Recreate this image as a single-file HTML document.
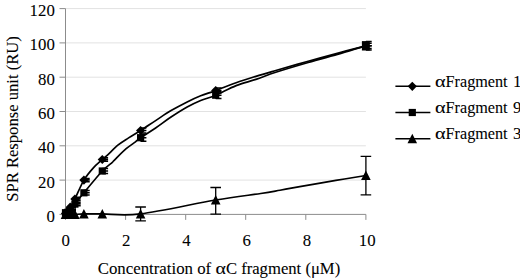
<!DOCTYPE html>
<html><head><meta charset="utf-8"><style>
html,body{margin:0;padding:0;background:#fff;}
svg{display:block}
.t{font-family:"Liberation Serif",serif;font-size:16px;fill:#000;stroke:#000;stroke-width:0.08px;}
</style></head><body>
<svg width="520" height="278" viewBox="0 0 520 278">
<rect width="520" height="278" fill="#fff"/>
<line x1="65.5" x2="365.9" y1="180.1" y2="180.1" stroke="#e2e2e2" stroke-width="1"/>
<line x1="65.5" x2="365.9" y1="145.8" y2="145.8" stroke="#e2e2e2" stroke-width="1"/>
<line x1="65.5" x2="365.9" y1="111.5" y2="111.5" stroke="#e2e2e2" stroke-width="1"/>
<line x1="65.5" x2="365.9" y1="77.2" y2="77.2" stroke="#e2e2e2" stroke-width="1"/>
<line x1="65.5" x2="365.9" y1="42.9" y2="42.9" stroke="#e2e2e2" stroke-width="1"/>
<line x1="65.5" x2="365.9" y1="8.6" y2="8.6" stroke="#e2e2e2" stroke-width="1"/>
<line x1="65.5" x2="65.5" y1="8.6" y2="214.4" stroke="#8c8c8c" stroke-width="1"/>
<line x1="65.5" x2="365.9" y1="214.4" y2="214.4" stroke="#8c8c8c" stroke-width="1"/>
<line x1="59.5" x2="65.5" y1="214.4" y2="214.4" stroke="#8c8c8c" stroke-width="1"/>
<text x="54.8" y="221.9" text-anchor="end" class="t" textLength="8.4" lengthAdjust="spacingAndGlyphs">0</text>
<line x1="59.5" x2="65.5" y1="180.1" y2="180.1" stroke="#8c8c8c" stroke-width="1"/>
<text x="54.8" y="187.6" text-anchor="end" class="t" textLength="16.8" lengthAdjust="spacingAndGlyphs">20</text>
<line x1="59.5" x2="65.5" y1="145.8" y2="145.8" stroke="#8c8c8c" stroke-width="1"/>
<text x="54.8" y="153.3" text-anchor="end" class="t" textLength="16.8" lengthAdjust="spacingAndGlyphs">40</text>
<line x1="59.5" x2="65.5" y1="111.5" y2="111.5" stroke="#8c8c8c" stroke-width="1"/>
<text x="54.8" y="119.0" text-anchor="end" class="t" textLength="16.8" lengthAdjust="spacingAndGlyphs">60</text>
<line x1="59.5" x2="65.5" y1="77.2" y2="77.2" stroke="#8c8c8c" stroke-width="1"/>
<text x="54.8" y="84.7" text-anchor="end" class="t" textLength="16.8" lengthAdjust="spacingAndGlyphs">80</text>
<line x1="59.5" x2="65.5" y1="42.9" y2="42.9" stroke="#8c8c8c" stroke-width="1"/>
<text x="54.8" y="50.4" text-anchor="end" class="t" textLength="25.2" lengthAdjust="spacingAndGlyphs">100</text>
<line x1="59.5" x2="65.5" y1="8.6" y2="8.6" stroke="#8c8c8c" stroke-width="1"/>
<text x="54.8" y="16.1" text-anchor="end" class="t" textLength="25.2" lengthAdjust="spacingAndGlyphs">120</text>
<line x1="65.5" x2="65.5" y1="214.4" y2="219.9" stroke="#8c8c8c" stroke-width="1"/>
<text x="65.8" y="246.2" text-anchor="middle" class="t" textLength="8.4" lengthAdjust="spacingAndGlyphs">0</text>
<line x1="125.6" x2="125.6" y1="214.4" y2="219.9" stroke="#8c8c8c" stroke-width="1"/>
<text x="126.1" y="246.2" text-anchor="middle" class="t" textLength="8.4" lengthAdjust="spacingAndGlyphs">2</text>
<line x1="185.7" x2="185.7" y1="214.4" y2="219.9" stroke="#8c8c8c" stroke-width="1"/>
<text x="186.4" y="246.2" text-anchor="middle" class="t" textLength="8.4" lengthAdjust="spacingAndGlyphs">4</text>
<line x1="245.7" x2="245.7" y1="214.4" y2="219.9" stroke="#8c8c8c" stroke-width="1"/>
<text x="246.6" y="246.2" text-anchor="middle" class="t" textLength="8.4" lengthAdjust="spacingAndGlyphs">6</text>
<line x1="305.8" x2="305.8" y1="214.4" y2="219.9" stroke="#8c8c8c" stroke-width="1"/>
<text x="306.9" y="246.2" text-anchor="middle" class="t" textLength="8.4" lengthAdjust="spacingAndGlyphs">8</text>
<line x1="365.9" x2="365.9" y1="214.4" y2="219.9" stroke="#8c8c8c" stroke-width="1"/>
<text x="367.2" y="246.2" text-anchor="middle" class="t" textLength="16.8" lengthAdjust="spacingAndGlyphs">10</text>
<path d="M65.50,213.54 C65.89,213.11 67.06,212.03 67.84,210.97 C68.62,209.91 69.01,209.20 70.19,207.20 C71.36,205.20 72.60,203.48 74.89,198.97 C77.17,194.45 80.84,185.25 83.88,180.10 C86.93,174.96 90.07,171.53 93.14,168.09 C96.21,164.66 99.82,161.78 102.30,159.52 C104.78,157.26 105.36,156.98 108.01,154.55 C110.66,152.12 114.76,147.72 118.19,144.94 C121.62,142.17 124.85,140.31 128.58,137.91 C132.32,135.51 136.09,133.42 140.60,130.54 C145.11,127.65 150.61,123.88 155.62,120.59 C160.63,117.30 165.38,113.93 170.64,110.81 C175.90,107.70 182.16,104.41 187.16,101.90 C192.17,99.38 195.92,97.61 200.68,95.72 C205.44,93.84 209.79,92.75 215.70,90.58 C221.61,88.40 229.42,85.06 236.13,82.69 C242.84,80.32 249.34,78.37 255.95,76.34 C262.56,74.31 267.07,73.03 275.78,70.51 C284.49,68.00 297.36,64.28 308.22,61.25 C319.09,58.22 331.35,54.90 340.97,52.33 C350.58,49.76 361.74,46.90 365.90,45.82" stroke="#000" stroke-width="1.7" fill="none" stroke-linejoin="round"/>
<path d="M67.8,210.1 V211.8 M67.8,210.1 H73.6 M67.8,211.8 H73.6 M67.8,211.0 H73.6" stroke="#000" stroke-width="1.5" fill="none"/>
<path d="M70.2,206.3 V208.1 M70.2,206.3 H76.0 M70.2,208.1 H76.0 M70.2,207.2 H76.0" stroke="#000" stroke-width="1.5" fill="none"/>
<path d="M74.9,197.2 V200.7 M74.9,197.2 H80.7 M74.9,200.7 H80.7 M74.9,199.0 H80.7" stroke="#000" stroke-width="1.5" fill="none"/>
<path d="M83.9,178.4 V181.8 M83.9,178.4 H89.7 M83.9,181.8 H89.7 M83.9,180.1 H89.7" stroke="#000" stroke-width="1.5" fill="none"/>
<path d="M102.3,157.8 V161.2 M102.3,157.8 H108.1 M102.3,161.2 H108.1 M102.3,159.5 H108.1" stroke="#000" stroke-width="1.5" fill="none"/>
<path d="M140.6,128.0 V133.1 M140.6,128.0 H146.4 M140.6,133.1 H146.4 M140.6,130.5 H146.4" stroke="#000" stroke-width="1.5" fill="none"/>
<path d="M215.7,88.0 V93.1 M215.7,88.0 H221.5 M215.7,93.1 H221.5 M215.7,90.6 H221.5" stroke="#000" stroke-width="1.5" fill="none"/>
<path d="M365.9,43.2 V48.4 M365.9,43.2 H371.7 M365.9,48.4 H371.7 M365.9,45.8 H371.7" stroke="#000" stroke-width="1.5" fill="none"/>
<path d="M65.5,208.9 l4.6,4.6 l-4.6,4.6 l-4.6,-4.6z" fill="#000"/>
<path d="M67.8,206.4 l4.6,4.6 l-4.6,4.6 l-4.6,-4.6z" fill="#000"/>
<path d="M70.2,202.6 l4.6,4.6 l-4.6,4.6 l-4.6,-4.6z" fill="#000"/>
<path d="M74.9,194.4 l4.6,4.6 l-4.6,4.6 l-4.6,-4.6z" fill="#000"/>
<path d="M83.9,175.5 l4.6,4.6 l-4.6,4.6 l-4.6,-4.6z" fill="#000"/>
<path d="M102.3,154.9 l4.6,4.6 l-4.6,4.6 l-4.6,-4.6z" fill="#000"/>
<path d="M140.6,125.9 l4.6,4.6 l-4.6,4.6 l-4.6,-4.6z" fill="#000"/>
<path d="M215.7,86.0 l4.6,4.6 l-4.6,4.6 l-4.6,-4.6z" fill="#000"/>
<path d="M65.50,212.69 C65.89,212.63 67.06,212.74 67.84,212.34 C68.62,211.94 69.01,211.66 70.19,210.28 C71.36,208.91 72.60,207.03 74.89,204.11 C77.17,201.19 79.32,198.31 83.88,192.79 C88.45,187.27 97.60,176.04 102.30,171.01 C107.00,165.98 110.03,164.44 112.06,162.61 C114.09,160.78 112.11,162.35 114.47,160.03 C116.82,157.72 122.68,151.75 126.18,148.72 C129.69,145.69 133.09,143.68 135.49,141.86 C137.90,140.03 137.25,140.05 140.60,137.74 C143.95,135.42 150.61,131.37 155.62,127.96 C160.63,124.56 165.38,120.82 170.64,117.33 C175.90,113.84 182.16,109.84 187.16,107.04 C192.17,104.24 195.92,102.50 200.68,100.52 C205.44,98.55 209.79,97.69 215.70,95.21 C221.61,92.72 229.42,88.23 236.13,85.60 C242.84,82.97 249.34,81.66 255.95,79.43 C262.56,77.20 267.07,75.06 275.78,72.23 C284.49,69.40 297.36,65.60 308.22,62.45 C319.09,59.31 331.35,56.13 340.97,53.36 C350.58,50.59 361.74,47.07 365.90,45.82" stroke="#000" stroke-width="1.7" fill="none" stroke-linejoin="round"/>
<path d="M67.8,211.5 V213.2 M67.8,211.5 H73.6 M67.8,213.2 H73.6 M67.8,212.3 H73.6" stroke="#000" stroke-width="1.5" fill="none"/>
<path d="M70.2,209.4 V211.1 M70.2,209.4 H76.0 M70.2,211.1 H76.0 M70.2,210.3 H76.0" stroke="#000" stroke-width="1.5" fill="none"/>
<path d="M74.9,202.4 V205.8 M74.9,202.4 H80.7 M74.9,205.8 H80.7 M74.9,204.1 H80.7" stroke="#000" stroke-width="1.5" fill="none"/>
<path d="M83.9,190.6 V195.0 M83.9,190.6 H89.7 M83.9,195.0 H89.7 M83.9,192.8 H89.7" stroke="#000" stroke-width="1.5" fill="none"/>
<path d="M102.3,168.6 V173.4 M102.3,168.6 H108.1 M102.3,173.4 H108.1 M102.3,171.0 H108.1" stroke="#000" stroke-width="1.5" fill="none"/>
<path d="M140.6,134.3 V141.2 M140.6,134.3 H146.4 M140.6,141.2 H146.4 M140.6,137.7 H146.4" stroke="#000" stroke-width="1.5" fill="none"/>
<path d="M215.7,91.8 V98.6 M215.7,91.8 H221.5 M215.7,98.6 H221.5 M215.7,95.2 H221.5" stroke="#000" stroke-width="1.5" fill="none"/>
<path d="M365.9,41.5 V50.1 M365.9,41.5 H371.7 M365.9,50.1 H371.7 M365.9,45.8 H371.7" stroke="#000" stroke-width="1.5" fill="none"/>
<rect x="61.9" y="209.1" width="7.2" height="7.2" fill="#000"/>
<rect x="64.2" y="208.7" width="7.2" height="7.2" fill="#000"/>
<rect x="66.6" y="206.7" width="7.2" height="7.2" fill="#000"/>
<rect x="71.3" y="200.5" width="7.2" height="7.2" fill="#000"/>
<rect x="80.3" y="189.2" width="7.2" height="7.2" fill="#000"/>
<rect x="98.7" y="167.4" width="7.2" height="7.2" fill="#000"/>
<rect x="137.0" y="134.1" width="7.2" height="7.2" fill="#000"/>
<rect x="212.1" y="91.6" width="7.2" height="7.2" fill="#000"/>
<rect x="362.3" y="42.2" width="7.2" height="7.2" fill="#000"/>
<rect x="361.9" y="41.1" width="7.8" height="9.4" fill="#000"/>
<path d="M65.50,214.40 C65.89,214.40 67.06,214.40 67.84,214.40 C68.62,214.40 69.01,214.40 70.19,214.40 C71.36,214.40 72.60,214.49 74.89,214.40 C77.17,214.31 79.32,213.97 83.88,213.89 C88.45,213.80 92.85,213.89 102.30,213.89 C111.75,213.89 121.70,216.20 140.60,213.89 C159.50,211.57 195.67,203.40 215.70,199.99 C235.73,196.59 250.05,195.11 260.76,193.48 C271.47,191.85 273.48,191.36 279.99,190.22 C286.49,189.08 290.50,188.25 299.81,186.62 C309.12,184.99 324.85,182.30 335.86,180.44 C346.87,178.59 360.89,176.30 365.90,175.47" stroke="#000" stroke-width="1.7" fill="none" stroke-linejoin="round"/>
<path d="M140.6,207.0 V220.9 M135.3,207.0 H145.9 M135.3,220.9 H145.9" stroke="#000" stroke-width="1.3" fill="none"/>
<path d="M215.7,187.5 V214.1 M210.4,187.5 H221.0 M210.4,214.1 H221.0" stroke="#000" stroke-width="1.3" fill="none"/>
<path d="M365.9,156.4 V194.8 M360.6,156.4 H371.2 M360.6,194.8 H371.2" stroke="#000" stroke-width="1.3" fill="none"/>
<path d="M65.5,209.4 l4.8,9.6 h-9.6z" fill="#000"/>
<path d="M67.8,209.4 l4.8,9.6 h-9.6z" fill="#000"/>
<path d="M70.2,209.4 l4.8,9.6 h-9.6z" fill="#000"/>
<path d="M74.9,209.4 l4.8,9.6 h-9.6z" fill="#000"/>
<path d="M83.9,208.9 l4.8,9.6 h-9.6z" fill="#000"/>
<path d="M102.3,208.9 l4.8,9.6 h-9.6z" fill="#000"/>
<path d="M140.6,208.9 l4.8,9.6 h-9.6z" fill="#000"/>
<path d="M215.7,195.0 l4.8,9.6 h-9.6z" fill="#000"/>
<path d="M365.9,170.5 l4.8,9.6 h-9.6z" fill="#000"/>
<line x1="395.4" x2="430.4" y1="86.3" y2="86.3" stroke="#000" stroke-width="1.6"/>
<path d="M412.3,81.7 l4.6,4.6 l-4.6,4.6 l-4.6,-4.6z" fill="#000"/>
<text x="435.0" y="86.6" class="t" textLength="10.6" lengthAdjust="spacingAndGlyphs">α</text>
<text x="445.6" y="86.6" class="t" textLength="62.0" lengthAdjust="spacingAndGlyphs">Fragment</text>
<text x="513.0" y="86.6" class="t" textLength="8.4" lengthAdjust="spacingAndGlyphs">1</text>
<line x1="395.4" x2="430.4" y1="112.5" y2="112.5" stroke="#000" stroke-width="1.6"/>
<rect x="408.7" y="108.9" width="7.2" height="7.2" fill="#000"/>
<text x="435.0" y="112.8" class="t" textLength="10.6" lengthAdjust="spacingAndGlyphs">α</text>
<text x="445.6" y="112.8" class="t" textLength="62.0" lengthAdjust="spacingAndGlyphs">Fragment</text>
<text x="513.0" y="112.8" class="t" textLength="8.4" lengthAdjust="spacingAndGlyphs">9</text>
<line x1="395.4" x2="430.4" y1="138.7" y2="138.7" stroke="#000" stroke-width="1.6"/>
<path d="M412.3,133.7 l4.8,9.6 h-9.6z" fill="#000"/>
<text x="435.0" y="139.0" class="t" textLength="10.6" lengthAdjust="spacingAndGlyphs">α</text>
<text x="445.6" y="139.0" class="t" textLength="62.0" lengthAdjust="spacingAndGlyphs">Fragment</text>
<text x="513.0" y="139.0" class="t" textLength="8.4" lengthAdjust="spacingAndGlyphs">3</text>
<text x="97.7" y="274" class="t" textLength="113.5" lengthAdjust="spacingAndGlyphs">Concentration of</text>
<text x="215.5" y="274" class="t" textLength="10.4" lengthAdjust="spacingAndGlyphs">α</text>
<text x="225.9" y="274" class="t" textLength="114.3" lengthAdjust="spacingAndGlyphs">C fragment (μM)</text>
<text transform="translate(17.6,201.8) rotate(-90) scale(1,1.08)" class="t" textLength="165.6" lengthAdjust="spacingAndGlyphs">SPR Response unit (RU)</text>
</svg>
</body></html>
